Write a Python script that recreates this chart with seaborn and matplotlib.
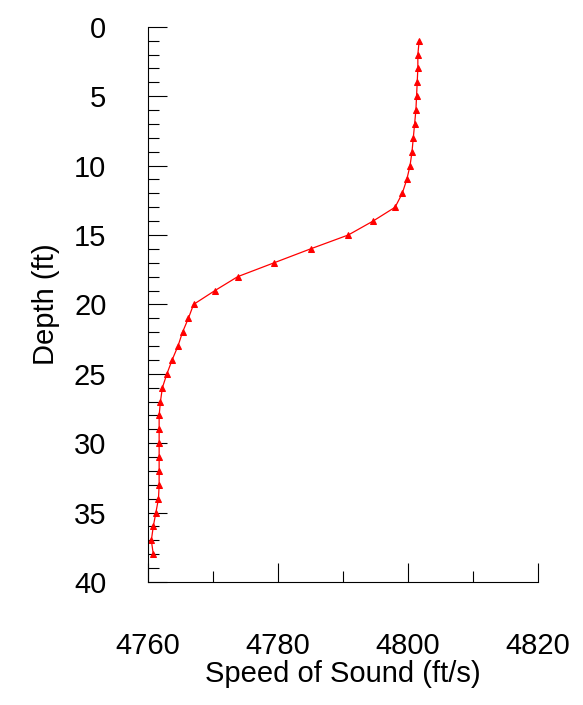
import numpy as np
import pandas as pd
import seaborn as sns
import matplotlib.pyplot as plt
from matplotlib.ticker import MultipleLocator

# ================= DATA =================
depth = list(range(1, 39))
speed = [4801.7, 4801.5, 4801.5, 4801.4, 4801.3, 4801.2, 4801.0, 4800.8, 4800.6, 4800.3,
         4799.8, 4799.1, 4798.0, 4794.6, 4790.8, 4785.0, 4779.4, 4773.8, 4770.3, 4767.0,
         4766.2, 4765.3, 4764.6, 4763.7, 4762.9, 4762.2, 4761.9, 4761.7, 4761.7, 4761.7,
         4761.7, 4761.7, 4761.7, 4761.6, 4761.2, 4760.8, 4760.5, 4760.8]

df = pd.DataFrame({"depth": depth, "speed": speed})

# ================= PLOT =================
sns.set_style("white", {"text.color": "black", "axes.labelcolor": "black",
                        "xtick.color": "black", "ytick.color": "black"})
plt.rcParams['font.family'] = ['Liberation Sans', 'DejaVu Sans']

fig = plt.figure(figsize=(5.83, 7.05), dpi=100)
ax = fig.add_axes([0.254, 0.1745, 0.669, 0.7875])

sns.lineplot(data=df, x="speed", y="depth", sort=False, estimator=None, orient="y",
             color="red", lw=0.9, marker="^", markersize=5, markeredgecolor="red", ax=ax)

ax.set_xlim(4760, 4820)
ax.set_ylim(40, 0)
ax.xaxis.set_major_locator(MultipleLocator(20))
ax.xaxis.set_minor_locator(MultipleLocator(10))
ax.yaxis.set_major_locator(MultipleLocator(5))
ax.yaxis.set_minor_locator(MultipleLocator(1))

for s in ["top", "right"]:
    ax.spines[s].set_visible(False)
for s in ["left", "bottom"]:
    ax.spines[s].set_color("black")
    ax.spines[s].set_linewidth(0.8)

ax.tick_params(axis="both", which="major", direction="in", length=14, width=0.8,
               labelsize=21, color="black", labelcolor="black")
ax.tick_params(axis="both", which="minor", direction="in", length=8, width=0.8, color="black")
ax.tick_params(axis="x", which="major", pad=36)
ax.tick_params(axis="y", which="major", pad=30)
ax.tick_params(left=True, bottom=True, which="both")

ax.set_xlabel("Speed of Sound (ft/s)", fontsize=21, labelpad=0)
ax.set_ylabel("Depth (ft)", fontsize=21, labelpad=10)

plt.savefig("out.png", dpi=100)
